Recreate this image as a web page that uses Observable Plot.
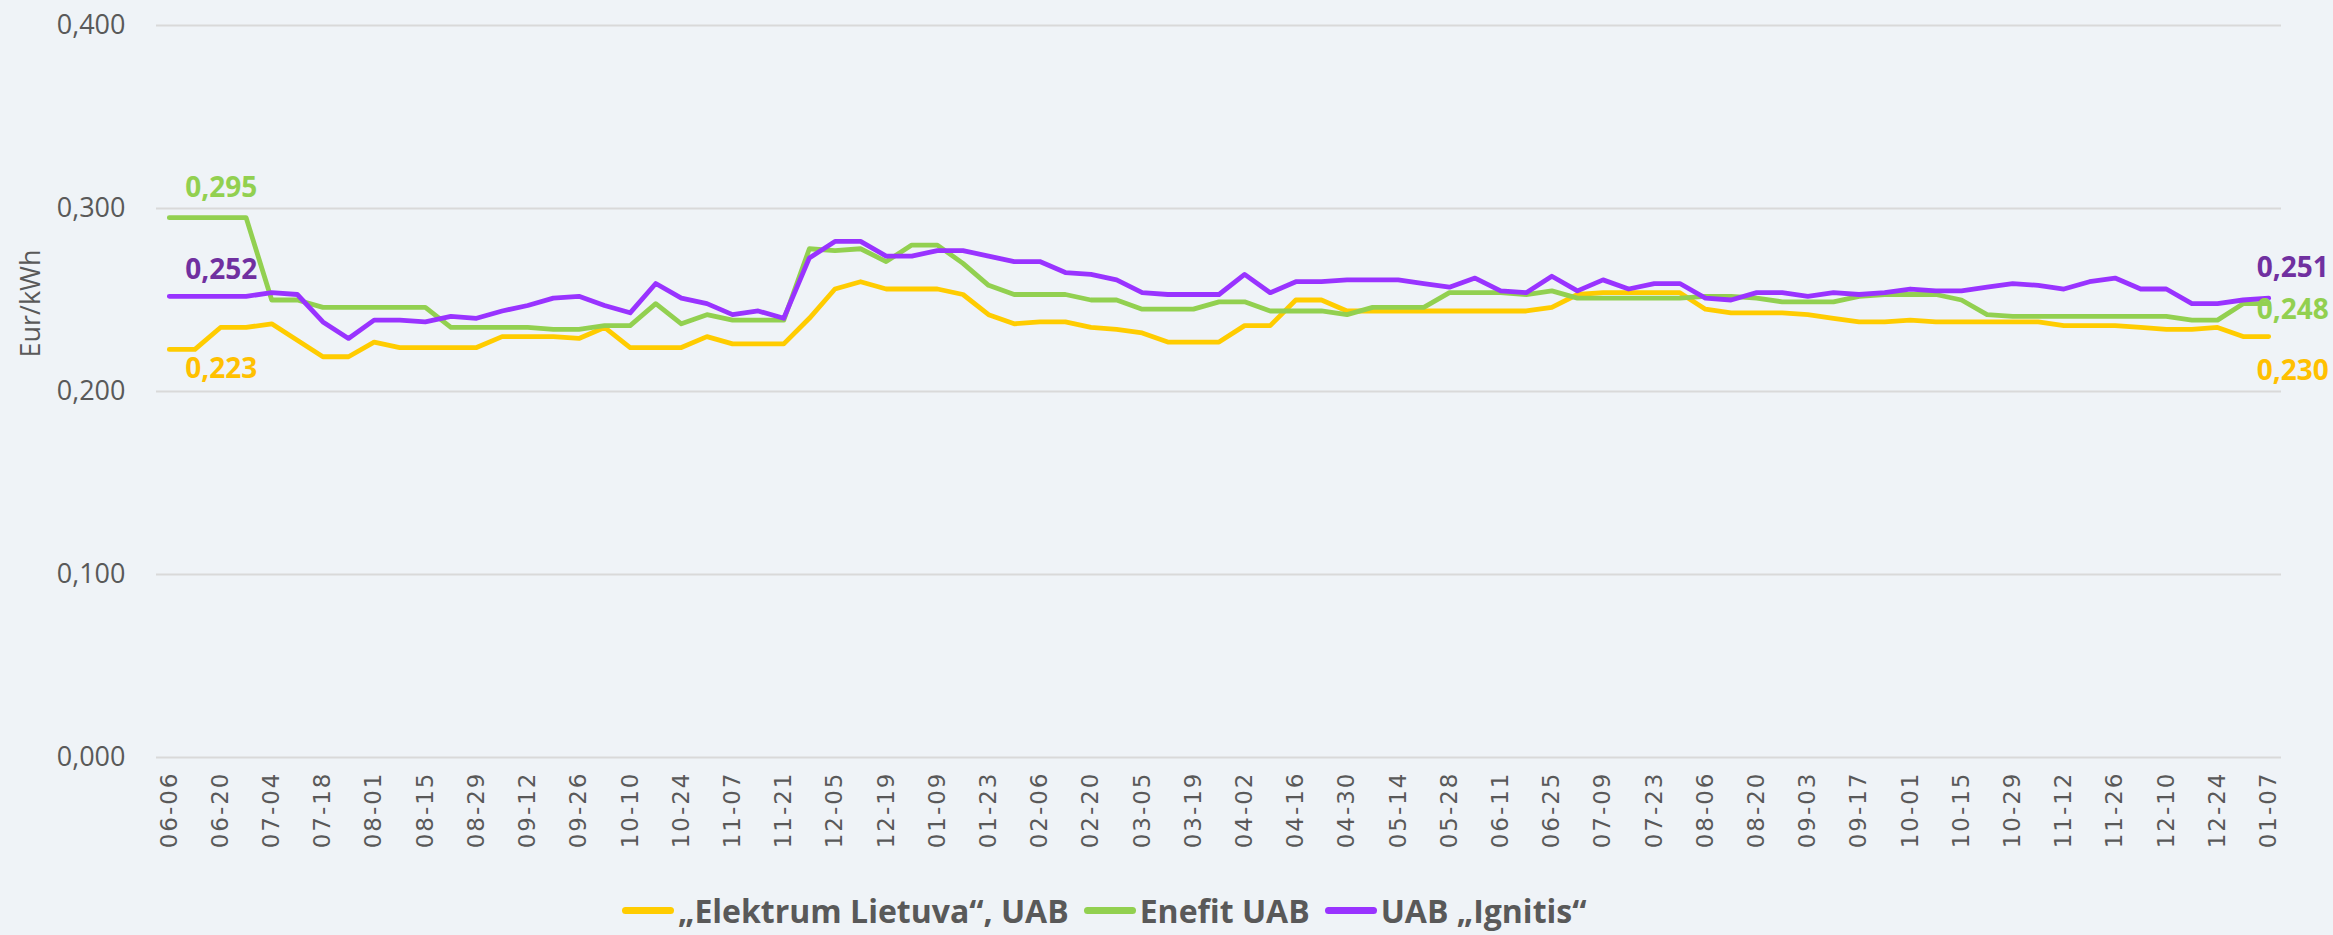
<!DOCTYPE html>
<html>
<head>
<meta charset="utf-8">
<script src="https://cdn.jsdelivr.net/npm/d3@7"></script>
<script src="https://cdn.jsdelivr.net/npm/@observablehq/plot@0.6"></script>
<style>
  html, body { margin: 0; padding: 0; background: #eff3f7; width: 2333px; height: 935px; overflow: hidden; }
  #legend { height: 50px; display: flex; align-items: center; padding-left: 622px;
            font-family: "Open Sans", sans-serif; font-weight: bold; font-size: 32px; color: #595959; }
  .item { display: flex; align-items: center; margin-right: 15px; }
  .sw { display: inline-block; width: 52px; height: 7px; border-radius: 4px; margin-right: 4px; }
</style>
</head>
<body>
<div id="chart"></div>
<div id="legend"></div>
<script>
// Weekly categories (every second one is labelled on the axis)
const weeks = [
  "06-06","06-13","06-20","06-27","07-04","07-11","07-18","07-25","08-01","08-08",
  "08-15","08-22","08-29","09-05","09-12","09-19","09-26","10-03","10-10","10-17",
  "10-24","10-31","11-07","11-14","11-21","11-28","12-05","12-12","12-19","01-02",
  "01-09","01-16","01-23","01-30","02-06","02-13","02-20","02-27","03-05","03-12",
  "03-19","03-26","04-02","04-09","04-16","04-23","04-30","05-07","05-14","05-21",
  "05-28","06-04","06-11","06-18","06-25","07-02","07-09","07-16","07-23","07-30",
  "08-06","08-13","08-20","08-27","09-03","09-10","09-17","09-24","10-01","10-08",
  "10-15","10-22","10-29","11-05","11-12","11-19","11-26","12-03","12-10","12-17",
  "12-24","12-31","01-07"
];
const tickLabels = [
  "06-06","06-20","07-04","07-18","08-01","08-15","08-29","09-12","09-26","10-10",
  "10-24","11-07","11-21","12-05","12-19","01-09","01-23","02-06","02-20","03-05",
  "03-19","04-02","04-16","04-30","05-14","05-28","06-11","06-25","07-09","07-23",
  "08-06","08-20","09-03","09-17","10-01","10-15","10-29","11-12","11-26","12-10",
  "12-24","01-07"
];
const yTicks = [0, 0.1, 0.2, 0.3, 0.4];

const seriesNames = ["„Elektrum Lietuva“, UAB", "Enefit UAB", "UAB „Ignitis“"];
const lineColors = ["#ffcc00", "#92d050", "#9933ff"];
const labelColors = ["#ffc000", "#92d050", "#7030a0"];

const elektrum = [
  0.223,0.223,0.235,0.235,0.237,0.228,0.219,0.219,0.227,0.224,
  0.224,0.224,0.224,0.230,0.230,0.230,0.229,0.235,0.224,0.224,
  0.224,0.230,0.226,0.226,0.226,0.240,0.256,0.260,0.256,0.256,
  0.256,0.253,0.242,0.237,0.238,0.238,0.235,0.234,0.232,0.227,
  0.227,0.227,0.236,0.236,0.250,0.250,0.244,0.244,0.244,0.244,
  0.244,0.244,0.244,0.244,0.246,0.253,0.254,0.254,0.254,0.254,
  0.245,0.243,0.243,0.243,0.242,0.240,0.238,0.238,0.239,0.238,
  0.238,0.238,0.238,0.238,0.236,0.236,0.236,0.235,0.234,0.234,
  0.235,0.230,0.230
];
const enefit = [
  0.295,0.295,0.295,0.295,0.250,0.250,0.246,0.246,0.246,0.246,
  0.246,0.235,0.235,0.235,0.235,0.234,0.234,0.236,0.236,0.248,
  0.237,0.242,0.239,0.239,0.239,0.278,0.277,0.278,0.271,0.280,
  0.280,0.270,0.258,0.253,0.253,0.253,0.250,0.250,0.245,0.245,
  0.245,0.249,0.249,0.244,0.244,0.244,0.242,0.246,0.246,0.246,
  0.254,0.254,0.254,0.253,0.255,0.251,0.251,0.251,0.251,0.251,
  0.252,0.252,0.251,0.249,0.249,0.249,0.252,0.253,0.253,0.253,
  0.250,0.242,0.241,0.241,0.241,0.241,0.241,0.241,0.241,0.239,
  0.239,0.248,0.248
];
const ignitis = [
  0.252,0.252,0.252,0.252,0.254,0.253,0.238,0.229,0.239,0.239,
  0.238,0.241,0.240,0.244,0.247,0.251,0.252,0.247,0.243,0.259,
  0.251,0.248,0.242,0.244,0.240,0.273,0.282,0.282,0.274,0.274,
  0.277,0.277,0.274,0.271,0.271,0.265,0.264,0.261,0.254,0.253,
  0.253,0.253,0.264,0.254,0.260,0.260,0.261,0.261,0.261,0.259,
  0.257,0.262,0.255,0.254,0.263,0.255,0.261,0.256,0.259,0.259,
  0.251,0.250,0.254,0.254,0.252,0.254,0.253,0.254,0.256,0.255,
  0.255,0.257,0.259,0.258,0.256,0.260,0.262,0.256,0.256,0.248,
  0.248,0.250,0.251
];

const seriesValues = [elektrum, enefit, ignitis];
const rows = [];
seriesValues.forEach((vals, s) => vals.forEach((v, i) => rows.push({week: weeks[i], value: v, series: seriesNames[s]})));

const fmt = d => d.toFixed(3).replace(".", ",");
const last = weeks.length - 1;

function valueLabel(arr, idx, color, dx, dy) {
  return Plot.text([{week: weeks[idx], value: arr[idx]}], {
    x: "week", y: "value", text: d => fmt(d.value),
    fill: color, dx, dy, textAnchor: "start",
    fontSize: 28, fontWeight: "bold", fontFamily: "'Open Sans', sans-serif"
  });
}

const chart = Plot.plot({
  width: 2333,
  height: 885,
  marginLeft: 156,
  marginRight: 52,
  marginTop: 25,
  marginBottom: 128,
  style: {background: "#eff3f7", fontFamily: "'Open Sans', sans-serif", overflow: "visible"},
  x: {type: "point", domain: weeks, padding: 0.5},
  y: {domain: [0, 0.4]},
  color: {domain: seriesNames, range: lineColors},
  marks: [
    Plot.gridY(yTicks, {stroke: "#d9d9d9", strokeOpacity: 1, strokeWidth: 2}),
    Plot.axisY(yTicks, {tickSize: 0, tickPadding: 31, tickFormat: fmt, fontSize: 27, color: "#595959", label: null}),
    Plot.axisX(tickLabels, {tickSize: 0, tickRotate: -90, tickPadding: 14, fontSize: 23, color: "#595959",
                            label: null, fontFamily: "'DejaVu Sans', sans-serif"}),
    Plot.text(["Eur/kWh"], {frameAnchor: "top-left", rotate: -90, dx: -136, dy: 278,
                            fontSize: 27, fill: "#595959", textAnchor: "middle"}),
    Plot.line(rows, {x: "week", y: "value", z: "series", stroke: "series", strokeWidth: 4.8,
                     strokeLinejoin: "round", strokeLinecap: "round"}),
    valueLabel(enefit, 0, labelColors[1], 16, -30),
    valueLabel(ignitis, 0, labelColors[2], 16, -26),
    valueLabel(elektrum, 0, labelColors[0], 16, 20),
    valueLabel(ignitis, last, labelColors[2], -12, -30),
    valueLabel(enefit, last, labelColors[1], -12, 6),
    valueLabel(elektrum, last, labelColors[0], -12, 34)
  ]
});
document.getElementById("chart").appendChild(chart);
chart.querySelectorAll('[aria-label="x-axis tick label"]').forEach(g => g.setAttribute("letter-spacing", "2"));

const legend = document.getElementById("legend");
seriesNames.forEach((name, i) => {
  const item = document.createElement("div");
  item.className = "item";
  const sw = document.createElement("span");
  sw.className = "sw";
  sw.style.background = lineColors[i];
  const t = document.createElement("span");
  t.textContent = name;
  item.appendChild(sw);
  item.appendChild(t);
  legend.appendChild(item);
});
</script>
</body>
</html>
